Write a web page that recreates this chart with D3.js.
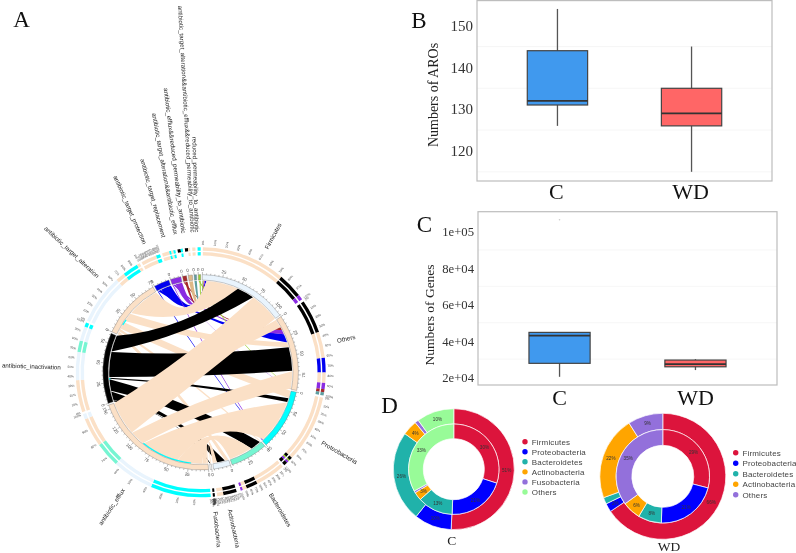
<!DOCTYPE html>
<html><head><meta charset="utf-8">
<style>html,body{margin:0;padding:0;background:#fff}svg{display:block;filter:blur(0.35px)}</style>
<script src="https://cdnjs.cloudflare.com/ajax/libs/d3/7.8.5/d3.min.js"></script>
</head><body><svg id="c" width="796" height="553"></svg>
<script>
// ---------- colours ----------
const beige="#FBE0C6", alice="#E9F4FD", cyan="#00FFFF", aqua="#76F5D2", black="#000000",
      blue="#0000F0", purple="#8A2BE2", brown="#A52A2A", tan="#DEB887", slate="#5F9EA0", ygreen="#9ACD32";

// ---------- panel A: sectors ----------
const sectorNames=["Firmicutes","Others","Proteobacteria","Bacteroidetes","Actinobacteria","Fusobacteria",
 "antibiotic_efflux","antibiotic_inactivation","antibiotic_target_alteration","antibiotic_target_protection",
 "antibiotic_target_replacement","antibiotic_target_alteration&&antibiotic_efflux",
 "antibiotic_efflux&&reduced_permeability_to_antibiotic",
 "antibiotic_target_alteration&&antibiotic_efflux&&reduced_permeability_to_antibiotic",
 "reduced_permeability_to_antibiotic"];
const sectorSizes=[110,94,75,46,21,2,155,87,75,19,13,5,5,3,3];
const sectorColors=[alice,beige,cyan,aqua,alice,"#ffffff",beige,black,beige,blue,purple,brown,tan,slate,ygreen];
const sectorLabelAngles=[28,77,120,150,168,174,213.5,272,313,336.5,344.7,349.8,353,356.8,358.5];
const sectorsWithPercentLabels=[0,1,2,3,4,5,6,7,8,9];

// links: [from, fromStart, fromEnd, to, toStart, toEnd, colour]
const linksThin=[
 [9,1.5,5,1,21,32.5,blue],[9,0.4,1.4,2,73.2,74,blue],[9,5.5,19,0,3.6,5.5,blue],
 [10,1.2,4,1,15,21,purple],[10,0.4,1.2,2,74.2,75,purple],[10,4.5,13,0,2.6,3.6,purple],
 [11,0,1.5,1,11,15,brown],[11,2,5,0,1.8,2.6,brown],
 [12,0,5,0,1.2,1.8,tan],[13,0,3,0,0.6,1.2,slate],
 [14,0,1.5,1,93,93.6,ygreen],[14,1.5,3,0,0,0.6,ygreen],[10,0,0.4,1,93.6,94,purple]];
const linksAlteration=[
 [8,0.5,4.5,4,0.2,4.5,beige],[8,5,8,3,0,1,beige],[8,8.5,18,2,0,9.5,beige],
 [8,20,31.5,1,32.5,39,beige],[8,33,75,0,5.5,47.5,beige]];
const linksInactivation=[
 [7,0,1.6,5,1,2,black],[7,2,13.5,4,5,15,black],[7,14.5,29.5,3,1.5,15,black],
 [7,30,31.5,2,10,15,black],[7,32.5,65,1,39,70,black],[7,65.5,87,0,47.5,70,black]];
const linksEfflux=[
 [6,0,2,5,0,1,beige],[6,2,7.5,4,15.5,21,beige],[6,8,40,3,15.5,46,beige],
 [6,40.5,90,2,15.5,73,beige],[6,90.5,110,1,70.5,93,beige],[6,110.5,155,0,70.5,110,beige],
 [6,146,154,1,0,11,beige]];
// thin cyan marks on the inner edge of sectors: [sector, start, end]
const rimMarks=[[6,22,90],[7,29,31],[8,14,22]];

// segments of the two outer tracks: [sector, start, end, colour, outerOnly]
const outerSegments=[
 [0,0,81,beige],[0,81,105,black],[0,105,110,purple],
 [1,0.5,33,black],[1,33,58,beige],[1,58,72,blue],[1,72,82,beige],[1,82,88,purple],[1,88,91,brown],[1,91,94,slate],
 [2,0,65,beige],[2,65,68,black],[2,68,69.5,ygreen],[2,69.5,71.5,purple],[2,71.5,75,black],
 [3,0,29,beige],[3,29,40,black],[3,40,44,beige],[3,44,46,purple],
 [4,2,15,black],[4,15,21,beige],[5,0,2,black],
 [6,0,58,cyan],[6,58,98,alice],[6,98,122,aqua],[6,122,150,beige],[6,150,155,alice],
 [7,0,31,beige],[7,31,58,alice],[7,58,69,aqua],[7,69,83,alice],[7,83,87,cyan],
 [8,0,48,alice],[8,48,57,beige],[8,57,72,cyan],[8,72,75,beige],
 [9,0,15,beige],[9,15,19,cyan],
 [10,0,7,beige],[10,7,9,cyan],[10,9,11,beige],[10,11,13,cyan],
 [11,0,3,black,1],[11,3,5,cyan],[12,0,3,black,1],[12,3,5,beige],[13,0,3,beige],[14,0,3,cyan]];
const percentTicks=[0,10,20,30,40,50,60,70,80,90,100];

// ---------- panels B, C ----------
const boxGroups=["C","WD"];
const arosStats=[{lo:126,q1:131,med:132,q3:144,hi:154},{lo:115,q1:126,med:129,q3:135,hi:145}];
const genesStats=[{lo:20300,q1:27700,med:42900,q3:44700,hi:44700},{lo:24000,q1:25800,med:27300,q3:29500,hi:30000}];
const genesOutlier=[{g:"C",v:106600}];
const arosTicks=[120,130,140,150], arosMinor=[115,125,135,145];
const genesTicks=[20000,40000,60000,80000,100000], genesMinor=[30000,50000,70000,90000];
const genesTickLabels=["2e+04","4e+04","6e+04","8e+04","1e+05"];
const boxColors=["#4099EE","#FF6666"];

// ---------- panel D ----------
const phylaC=["Firmicutes","Proteobacteria","Bacteroidetes","Actinobacteria","Fusobacteria","Others"];
const phylaCColors=["#DC143C","#0000FF","#20B2AA","#FFA500","#9370DB","#98FB98"];
const cOuter=[50.7,10,24.3,4,1,10], cOuterLabels=["51%","10%","26%","4%","","10%"];
const cInner=[30,20.6,12.7,3,0.7,33], cInnerLabels=["30%","21%","13%","3%","","33%"];
const phylaWD=["Firmicutes","Proteobacteria","Bacteroidetes","Actinobacteria","Others"];
const phylaWDColors=["#DC143C","#0000FF","#20B2AA","#FFA500","#9370DB"];
const wdOuter=[65.6,2.2,1.7,21.5,9], wdOuterLabels=["66%","2%","","22%","9%"];
const wdInner=[29,21.5,8.1,6.4,35], wdInnerLabels=["29%","21%","8%","6%","35%"];

const svg=d3.select("#c");
const serif="'Liberation Serif','Times New Roman',serif", sans="'Liberation Sans',Arial,sans-serif";

// ================= PANEL A =================
const cx=200.7, cy=372.3, rLink=91.5, rTrackIn=92.3, rTrackOut=97.7;
const gapDeg=1, startDeg=1;
const perUnit=(360-gapDeg*sectorSizes.length)/d3.sum(sectorSizes);
let cursor=startDeg;
const sectorScale=sectorSizes.map(sz=>{
  const s=d3.scaleLinear().domain([0,sz]).range([cursor,cursor+sz*perUnit]);
  cursor+=sz*perUnit+gapDeg; return s;
});
const rad=d=>d*Math.PI/180;
const polar=(deg,r)=>[r*Math.sin(rad(deg)),-r*Math.cos(rad(deg))];
const A=svg.append("g").attr("transform",`translate(${cx},${cy})`);
const arcGen=d3.arc();
const ctrlFrac=d3.scaleLinear().domain([100,170]).range([0.5,0.05]).clamp(true);
function ctrl(a,b,r){
  let diff=((b-a)%360+360)%360; if(diff>180) diff-=360;
  return polar(a+diff/2,r*ctrlFrac(Math.abs(diff)));
}
function ribbonPath(l){
  const a0=sectorScale[l[0]](l[1]),a1=sectorScale[l[0]](l[2]),b0=sectorScale[l[3]](l[4]),b1=sectorScale[l[3]](l[5]);
  const p=d3.path(),r=rLink,q=-Math.PI/2;
  p.moveTo(...polar(a0,r));
  p.arc(0,0,r,rad(a0)+q,rad(a1)+q);
  const c1=ctrl(a1,b0,r); p.quadraticCurveTo(c1[0],c1[1],...polar(b0,r));
  p.arc(0,0,r,rad(b0)+q,rad(b1)+q);
  const c2=ctrl(b1,a0,r); p.quadraticCurveTo(c2[0],c2[1],...polar(a0,r));
  p.closePath();
  return p.toString();
}
[linksThin,linksAlteration,linksInactivation,linksEfflux].forEach(group=>{
  A.append("g").selectAll("path").data(group).join("path")
   .attr("d",ribbonPath).attr("fill",d=>d[6]);
});
A.append("g").selectAll("path").data(rimMarks).join("path")
 .attr("d",d=>arcGen({innerRadius:90.6,outerRadius:91.8,startAngle:rad(sectorScale[d[0]](d[1])),endAngle:rad(sectorScale[d[0]](d[2]))}))
 .attr("fill",cyan);
// sector track
A.append("g").selectAll("path").data(sectorSizes).join("path")
 .attr("d",(d,i)=>arcGen({innerRadius:rTrackIn,outerRadius:rTrackOut,startAngle:rad(sectorScale[i](0)),endAngle:rad(sectorScale[i](d))}))
 .attr("fill",(d,i)=>sectorColors[i]).attr("stroke","#777").attr("stroke-width",0.4);
// axis ticks
sectorSizes.forEach((sz,i)=>{
  const s=sectorScale[i], g=A.append("g");
  const small=sz<10;
  const ticks=small?[0]:d3.range(0,sz+0.01,5);
  g.selectAll("line").data(ticks).join("line")
   .each(function(t){
     const a=s(t),maj=t%25===0;
     const p0=polar(a,rTrackOut),p1=polar(a,rTrackOut+(maj?2.6:1.4));
     d3.select(this).attr("x1",p0[0]).attr("y1",p0[1]).attr("x2",p1[0]).attr("y2",p1[1]);
   }).attr("stroke","#555").attr("stroke-width",0.4);
  const labs=ticks.filter(t=>t%25===0);
  g.selectAll("text").data(labs).join("text")
   .text(t=>t)
   .attr("transform",t=>{
     const a=s(t),p=polar(a,rTrackOut+5.2);
     const rot=(a>90&&a<270)?a-180:a;
     return `translate(${p[0]},${p[1]}) rotate(${rot})`;
   }).attr("text-anchor","middle").attr("dy","0.35em")
   .attr("font-family",sans).attr("font-size",4.4).attr("fill","#444");
});
// outer tracks
const tracks=[{i:116.8,o:120.2,outerTrack:false},{i:121.6,o:125,outerTrack:true}];
tracks.forEach(t=>{
  A.append("g").selectAll("path").data(outerSegments.filter(d=>t.outerTrack||!d[4])).join("path")
   .attr("d",d=>arcGen({innerRadius:t.i,outerRadius:t.o,startAngle:rad(sectorScale[d[0]](d[1])),endAngle:rad(sectorScale[d[0]](d[2]))}))
   .attr("fill",d=>d[3]);
});
// percent tick labels
sectorsWithPercentLabels.forEach(i=>{
  const s=sectorScale[i].copy().domain([0,100]);
  A.append("g").selectAll("text").data(percentTicks).join("text")
   .text(t=>t+"%")
   .attr("transform",t=>{
     const a=s(t),p=polar(a,127);
     return `translate(${p[0]},${p[1]}) rotate(${a<180?a-90:a-270})`;
   }).attr("text-anchor",t=>s(t)<180?"start":"end").attr("dy","0.35em")
   .attr("font-family",sans).attr("font-size",3.1).attr("fill","#444");
});
// sector names
A.append("g").selectAll("text").data(sectorNames).join("text")
 .text(d=>d)
 .attr("transform",(d,i)=>{
   const a=sectorLabelAngles[i],right=a<180,p=polar(a,140);
   return `translate(${p[0]},${p[1]}) rotate(${right?a-90:a-270})`;
 })
 .attr("text-anchor",(d,i)=>sectorLabelAngles[i]<180?"start":"end").attr("dy","0.35em")
 .attr("font-family",sans).attr("font-size",6.2).attr("fill","#222");

// ================= PANELS B, C =================
function boxPanel(o){
  const x=d3.scalePoint().domain(boxGroups).range([o.x0,o.x1]).padding(0.6);
  const y=d3.scaleLinear().domain(o.dom).range([o.y1,o.y0]);
  const g=svg.append("g");
  g.append("g").selectAll("line").data(o.minor).join("line")
   .attr("x1",o.x0).attr("x2",o.x1).attr("y1",y).attr("y2",y).attr("stroke","#f4f4f4").attr("stroke-width",0.8);
  const ax=g.append("g").attr("transform",`translate(${o.x0-4},0)`)
   .call(d3.axisLeft(y).tickValues(o.ticks).tickSize(0).tickPadding(0).tickFormat((d,i)=>o.labels?o.labels[i]:d));
  ax.select(".domain").remove();
  ax.selectAll("text").attr("font-family",serif).attr("font-size",o.tickSize).attr("fill","#333");
  const bw=x.step()*0.45;
  const b=g.append("g").selectAll("g").data(o.stats).join("g");
  b.append("line").attr("x1",(d,i)=>x(boxGroups[i])).attr("x2",(d,i)=>x(boxGroups[i]))
   .attr("y1",d=>y(d.lo)).attr("y2",d=>y(d.hi)).attr("stroke","#555").attr("stroke-width",1.3);
  b.append("rect").attr("x",(d,i)=>x(boxGroups[i])-bw/2).attr("width",bw)
   .attr("y",d=>y(d.q3)).attr("height",d=>y(d.q1)-y(d.q3))
   .attr("fill",(d,i)=>boxColors[i]).attr("stroke","#444").attr("stroke-width",1.2);
  b.append("line").attr("x1",(d,i)=>x(boxGroups[i])-bw/2).attr("x2",(d,i)=>x(boxGroups[i])+bw/2)
   .attr("y1",d=>y(d.med)).attr("y2",d=>y(d.med)).attr("stroke","#333").attr("stroke-width",1.8);
  if(o.outliers) g.append("g").selectAll("circle").data(o.outliers).join("circle")
   .attr("cx",d=>x(d.g)).attr("cy",d=>y(d.v)).attr("r",0.8).attr("fill","#ccc");
  g.append("rect").attr("x",o.x0).attr("y",o.y0).attr("width",o.x1-o.x0).attr("height",o.y1-o.y0)
   .attr("fill","none").attr("stroke","#bdbdbd").attr("stroke-width",1.2);
  g.selectAll("text.xl").data(boxGroups).join("text").attr("class","xl").text(d=>d)
   .attr("x",d=>x(d)+o.xlShift).attr("y",o.xlY).attr("text-anchor","middle")
   .attr("font-family",serif).attr("font-size",22).attr("fill","#111");
  g.append("text").text(o.title)
   .attr("transform",`translate(${o.titleX},${o.titleY}) rotate(-90)`).attr("text-anchor","middle")
   .attr("font-family",serif).attr("font-size",o.titleSize).attr("fill","#222");
}
boxPanel({x0:477,x1:772,y0:0.6,y1:181,dom:[112.8,156],ticks:arosTicks,minor:arosMinor,stats:arosStats,
  tickSize:15,xlY:199,xlShift:-1,title:"Numbers of AROs",titleX:438,titleY:95,titleSize:14});
boxPanel({x0:478,x1:777,y0:211.7,y1:385,dom:[15800,111000],ticks:genesTicks,minor:genesMinor,stats:genesStats,
  labels:genesTickLabels,outliers:genesOutlier,tickSize:12.7,xlY:405,xlShift:0,
  title:"Numbers of Genes",titleX:434,titleY:315,titleSize:13.5});

// ================= PANEL D =================
function donut(o){
  const g=svg.append("g").attr("transform",`translate(${o.cx},${o.cy})`);
  const pie=d3.pie().sort(null).value(d=>d);
  const color=d3.scaleOrdinal().domain(o.names).range(o.colors);
  [[o.outer,o.outerLabels,o.rMid,o.rOut],[o.inner,o.innerLabels,o.rIn,o.rMid]].forEach(([vals,labs,ri,ro])=>{
    const arc=d3.arc().innerRadius(ri).outerRadius(ro);
    const arcs=pie(vals);
    g.append("g").selectAll("path").data(arcs).join("path").attr("d",arc)
     .attr("fill",(d,i)=>color(o.names[i])).attr("stroke","#fff").attr("stroke-width",0.7);
    g.append("g").selectAll("text").data(arcs).join("text")
     .text((d,i)=>labs[i]).attr("transform",d=>`translate(${arc.centroid(d)})`)
     .attr("text-anchor","middle").attr("dy","0.35em")
     .attr("font-family",sans).attr("font-size",4.6).attr("fill","#333");
  });
  const leg=svg.append("g").selectAll("g").data(o.names).join("g")
    .attr("transform",(d,i)=>`translate(${o.legX},${o.legY+i*o.legStep})`);
  leg.append("circle").attr("r",2.7).attr("fill",d=>color(d));
  leg.append("text").text(d=>d).attr("x",6.8).attr("dy","0.35em")
     .attr("font-family",sans).attr("font-size",8).attr("letter-spacing",0.15).attr("fill","#444");
  svg.append("text").text(o.caption).attr("x",o.capX).attr("y",o.capY).attr("text-anchor","middle")
     .attr("font-family",serif).attr("font-size",13.5).attr("fill","#222");
}
donut({cx:453.8,cy:469.2,rIn:30.5,rMid:45.2,rOut:60.5,names:phylaC,colors:phylaCColors,
  outer:cOuter,outerLabels:cOuterLabels,inner:cInner,innerLabels:cInnerLabels,
  legX:525,legY:441.7,legStep:10.05,caption:"C",capX:451.7,capY:545});
donut({cx:662.8,cy:476.3,rIn:31,rMid:46.7,rOut:63,names:phylaWD,colors:phylaWDColors,
  outer:wdOuter,outerLabels:wdOuterLabels,inner:wdInner,innerLabels:wdInnerLabels,
  legX:735.7,legY:452.7,legStep:10.5,caption:"WD",capX:669,capY:551});

// ================= PANEL LETTERS =================
const panelLetters=[["A",21.5,27],["B",419,28],["C",424.5,232],["D",389.5,413]];
svg.append("g").selectAll("text").data(panelLetters).join("text")
 .text(d=>d[0]).attr("x",d=>d[1]).attr("y",d=>d[2]).attr("text-anchor","middle")
 .attr("font-family",serif).attr("font-size",23).attr("fill","#111");
</script></body></html>
